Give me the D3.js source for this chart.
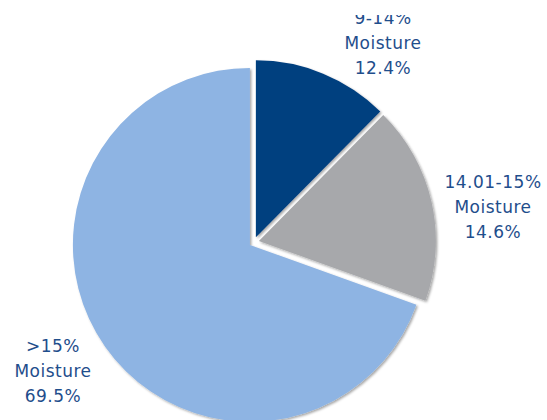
<!DOCTYPE html>
<html>
<head>
<meta charset="utf-8">
<script src="https://cdn.jsdelivr.net/npm/d3@7"></script>
<style>
	body { margin: 0; background: #fff; }
	svg { display: block; }
	.lbl { font-family: "DejaVu Sans", sans-serif; font-size: 17px; letter-spacing: 0.5px; fill: #1F4E8C; }
</style>
</head>
<body>
<div id="chart"></div>
<script>
// slice sizes (angles), and the printed labels
var categories = ["9-14%", "14.01-15%", ">15%"];
var sliceValues = [12.4, 18.1, 69.5];
var labelValues = ["12.4%", "14.6%", "69.5%"];
var colors = ["#003F7F", "#A7A8AB", "#8EB4E3"];
// label anchors (centre x, first baseline y)
var labelPos = [[383, 24], [493, 188], [53, 352]];

function createPieChart() {
	const width = 547, height = 420;
	const cx = 254, cy = 242, radius = 177, explode = 5;

	const svg = d3.select("#chart").append("svg")
		.attr("width", width)
		.attr("height", height);

	const defs = svg.append("defs");
	const f = defs.append("filter").attr("id", "shadow")
		.attr("x", "-10%").attr("y", "-10%").attr("width", "120%").attr("height", "120%");
	f.append("feDropShadow")
		.attr("dx", 1.5).attr("dy", 1.5).attr("stdDeviation", 1.2)
		.attr("flood-color", "#000").attr("flood-opacity", 0.35);
	defs.append("clipPath").attr("id", "clip")
		.append("rect").attr("x", 0).attr("y", 15).attr("width", width).attr("height", height - 15);

	const g = svg.append("g").attr("clip-path", "url(#clip)");

	const pie = d3.pie().sort(null).value(d => d);
	const arc = d3.arc().innerRadius(0).outerRadius(radius);
	const arcs = pie(sliceValues);

	g.selectAll("path.slice")
		.data(arcs)
		.enter().append("path")
		.attr("class", "slice")
		.attr("d", arc)
		.attr("fill", (d, i) => colors[i])
		.attr("filter", "url(#shadow)")
		.attr("transform", d => {
			const a = (d.startAngle + d.endAngle) / 2;
			return "translate(" + (cx + Math.sin(a) * explode) + "," + (cy - Math.cos(a) * explode) + ")";
		});

	categories.forEach((c, i) => {
		const t = g.append("text")
			.attr("class", "lbl")
			.attr("text-anchor", "middle")
			.attr("x", labelPos[i][0])
			.attr("y", labelPos[i][1]);
		[c, "Moisture", labelValues[i]].forEach((s, k) => {
			t.append("tspan")
				.attr("x", labelPos[i][0])
				.attr("y", labelPos[i][1] + k * 25)
				.text(s);
		});
	});
}

createPieChart();
</script>
</body>
</html>
